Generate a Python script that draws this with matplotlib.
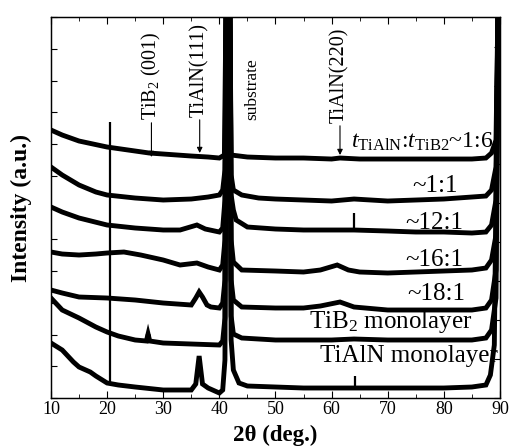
import numpy as np
import matplotlib
matplotlib.use("Agg")
import matplotlib.pyplot as plt

plt.rcParams['font.family'] = ['Liberation Serif', 'DejaVu Serif']
plt.rcParams['mathtext.fontset'] = 'custom'
plt.rcParams['mathtext.rm'] = 'Liberation Serif'
plt.rcParams['mathtext.it'] = 'Liberation Serif:italic'
plt.rcParams['mathtext.bf'] = 'Liberation Serif:bold'

# XRD patterns (vertical offset already included)
th_16 = [10, 12, 15, 20, 25, 27.5, 30, 35, 38, 40, 40.9, 41.3, 41.8, 42.1, 45, 50, 55, 60, 61.5,
         65, 70, 75, 80, 85, 87.5, 88.5, 89.3, 89.8]
i_16 = [268, 263, 257, 251, 247, 245, 244, 242, 241, 240, 243, 450, 450, 243, 241, 240, 240, 239, 240,
        239, 239, 239, 239, 239, 240, 245, 258, 450]

th_11 = [10, 12, 15, 18, 20, 25, 30, 35, 38, 40, 40.6, 41.0, 41.3, 41.8, 42.1, 42.5, 44, 47, 50, 55,
         60, 64, 70, 75, 80, 85, 87.5, 88.5, 89.3, 89.8]
i_11 = [231, 223, 213, 206, 203, 200, 198, 199, 201, 203, 208, 228, 450, 450, 223, 208, 203, 200, 199, 198,
        197, 199, 197, 198, 199, 201, 202, 208, 231, 450]

th_121 = [10, 12, 15, 20, 25, 30, 33, 36, 37.5, 40, 40.6, 41.0, 41.3, 41.8, 42.1, 42.5, 43, 45, 50, 55,
          60, 64, 70, 75, 80, 85, 87.5, 88.5, 89.3, 89.8]
i_121 = [191, 186, 180, 173, 170, 168, 168, 173, 169, 166, 170, 198, 450, 450, 203, 188, 178, 171, 169, 168,
         168, 168, 167, 166, 166, 165, 166, 173, 198, 450]

th_161 = [10, 12, 15, 18, 20, 23, 26, 30, 33, 36, 38, 40, 40.6, 41.0, 41.3, 41.8, 42.1, 42.5, 44, 50,
          55, 58, 61, 63, 65, 70, 75, 80, 85, 87.5, 88.5, 89.3, 89.8]
i_161 = [146, 144, 143, 144, 145, 146, 143, 138, 133, 135, 131, 128, 133, 158, 450, 450, 158, 136, 128, 127,
         126, 128, 133, 128, 126, 125, 126, 127, 128, 130, 138, 163, 450]

th_181 = [10, 12, 15, 20, 25, 30, 35, 35.8, 36.4, 37.0, 37.8, 38.5, 40, 40.6, 41.0, 41.3, 41.8, 42.1,
          42.5, 44, 50, 55, 58, 61.5, 64, 70, 75, 80, 85, 87.5, 88.5, 89.3, 89.8]
i_181 = [108, 105, 101, 100, 98, 95, 93, 100, 106, 101, 93, 91, 90, 95, 118, 450, 450, 118,
         98, 91, 90, 90, 92, 96, 91, 88, 88, 88, 88, 90, 98, 128, 450]

th_tib2 = [10, 11, 12, 15, 18, 20, 22, 25, 27.0, 27.3, 27.6, 30, 35, 40, 40.6, 41.0, 41.3, 41.8, 42.1,
           42.5, 44, 50, 55, 60, 64, 70, 75, 80, 85, 87.5, 88.5, 89.3, 89.8]
i_tib2 = [100, 94, 88, 80, 71, 66, 62, 58, 57, 64, 57, 55, 54, 53, 57, 80, 450, 450, 82,
          64, 60, 58, 58, 58, 59, 58, 58, 58, 58, 60, 68, 100, 450]

th_tialn = [10, 12, 14, 15, 17, 18, 20, 22, 25, 30, 35, 35.8, 36.4, 37.0, 38, 40,
            40.6, 41.0, 41.3, 41.8, 42.1, 42.5, 43.5, 45, 50, 55, 60, 64, 70, 75, 80,
            85, 87.5, 88.3, 89.0, 89.8]
i_tialn = [55, 48, 36, 31, 26, 22, 15, 13, 11, 8, 8, 14, 42, 14, 10, 5,
           8, 38, 450, 450, 58, 28, 15, 12, 11, 10, 10, 10, 10, 10, 10,
           11, 13, 23, 53, 450]

patterns = [(th_16, i_16), (th_11, i_11), (th_121, i_121), (th_161, i_161),
            (th_181, i_181), (th_tib2, i_tib2), (th_tialn, i_tialn)]

# narrow spikes: position (deg), foot and top (a.u.)
spike_th = [20.5, 64.0, 64.1]
spike_lo = [15, 168, 10]
spike_hi = [276, 185, 22]

# curve labels: text, right edge (deg), baseline (a.u.)
lab_text = [r'$t_{\mathrm{TiAlN}}$:$t_{\mathrm{TiB2}}$~1:6', '~1:1', '~12:1', '~16:1', '~18:1',
            r'TiB$_2$ monolayer', 'TiAlN monolayer']
lab_x = [88.8, 82.5, 83.4, 83.4, 83.8, 85.0, 89.6]
lab_y = [250, 206, 169, 132, 98, 70, 36]
lab_size = [17, 18, 18, 18, 18, 18, 18]

# peak markers: text, position (deg), text start, arrow tip
peak_text = [r'TiB$_2$ (001)', 'TiAlN(111)', 'TiAlN(220)']
peak_x = [27.9, 36.5, 61.5]
peak_text_y = [278, 281, 275]
peak_tip_y = [241, 245, 243]

fig = plt.figure(figsize=(5.17, 4.48), dpi=100)
ax = fig.add_axes([0.0986, 0.1116, 0.8684, 0.8504])

for th, inten in patterns:
    ax.plot(th, inten, color='black', lw=3.5, solid_joinstyle='miter')
ax.vlines(spike_th, spike_lo, spike_hi, color='black', lw=1.6)

for t, x, y, fs in zip(lab_text, lab_x, lab_y, lab_size):
    ax.text(x, y, t, ha='right', va='baseline', fontsize=fs)

for t, x, y0, y1 in zip(peak_text, peak_x, peak_text_y, peak_tip_y):
    ax.annotate(t, xy=(x, y1), xytext=(x, y0), rotation=90, ha='center', va='bottom',
                fontsize=14.5,
                arrowprops=dict(arrowstyle='-|>', color='black', lw=0.8, mutation_scale=8,
                                shrinkA=0, shrinkB=0))

ax.text(45.8, 278, 'substrate', rotation=90, ha='center', va='bottom', fontsize=12.5)

ax.set_xlim(10, 90)
ax.set_ylim(0, 381)
ax.set_xticks(np.arange(10, 91, 10))
ax.set_xticks(np.arange(15, 90, 10), minor=True)
ax.set_yticks(np.arange(0, 382, 31.75))
ax.set_yticklabels([])
ax.tick_params(axis='x', which='major', direction='in', top=True, length=5, labelsize=13, pad=2)
ax.tick_params(axis='x', which='minor', direction='in', top=True, length=3)
ax.tick_params(axis='y', direction='in', right=False, length=4)

ax2 = ax.twinx()
ax2.set_ylim(0, 381)
ax2.set_yticks(np.arange(0, 382, 39))
ax2.set_yticklabels([])
ax2.tick_params(axis='y', direction='in', length=4)

for a in (ax, ax2):
    for s in a.spines.values():
        s.set_linewidth(0.9)

ax.set_xlabel(r'2θ (deg.)', fontsize=16.5, fontweight='bold', labelpad=5)
ax.set_ylabel('Intensity (a.u.)', fontsize=17, fontweight='bold', labelpad=10)

fig.savefig('out.png', dpi=100)
